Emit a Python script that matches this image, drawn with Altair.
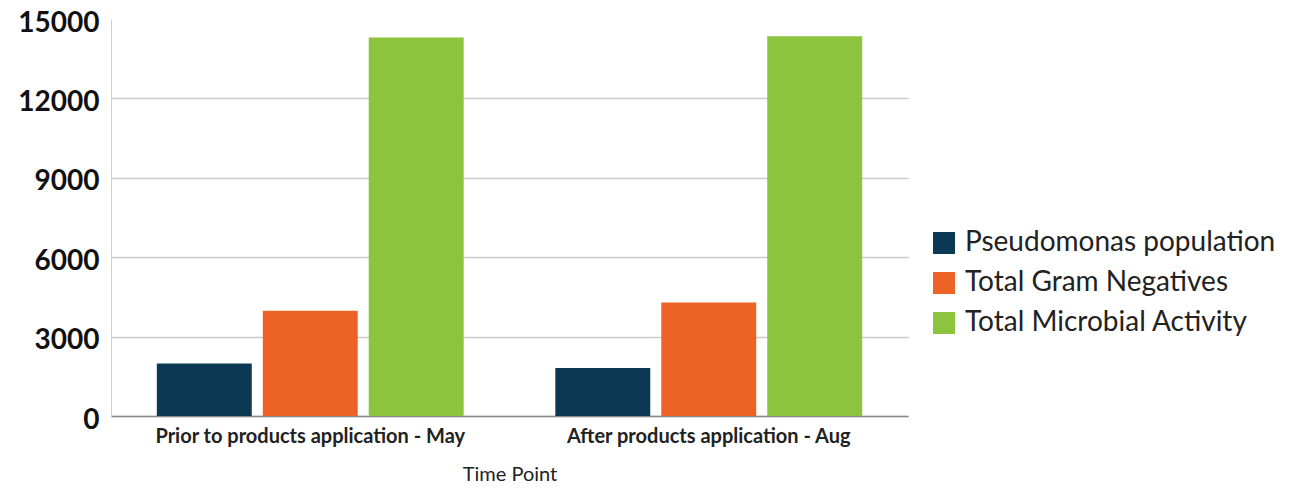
import altair as alt
import pandas as pd

time_points = ["Prior to products application - May", "After products application - Aug"]
series = ["Pseudomonas population", "Total Gram Negatives", "Total Microbial Activity"]
pseudomonas = [1980, 1810]
gram_neg = [3980, 4290]
microbial = [14300, 14350]
colors = ["#0b3853", "#ec6325", "#8cc43d"]

rows = []
for i, tp in enumerate(time_points):
    for s, vals in zip(series, [pseudomonas, gram_neg, microbial]):
        rows.append({"Time Point": tp, "Series": s, "Value": vals[i]})
df = pd.DataFrame(rows)

font = "Lato"

chart = alt.Chart(df).mark_bar().encode(
    x=alt.X("Time Point:N", sort=time_points,
            scale=alt.Scale(paddingInner=0.23, paddingOuter=0.115),
            axis=alt.Axis(title="Time Point", labelAngle=0, labelFont=font,
                          labelFontWeight="bold", labelFontSize=20, labelColor="#222",
                          labelPadding=10, labelLimit=500, titleFont=font,
                          titleFontWeight="normal", titleFontSize=20, titleColor="#222",
                          titlePadding=18, domainColor="#888", domainWidth=1.5,
                          ticks=False, grid=False)),
    xOffset=alt.XOffset("Series:N", sort=series,
                        scale=alt.Scale(paddingInner=0.104, paddingOuter=0)),
    y=alt.Y("Value:Q",
            scale=alt.Scale(domain=[0, 15000], nice=False),
            axis=alt.Axis(title=None, values=[0, 3000, 6000, 9000, 12000, 15000], format="d",
                          labelFont=font, labelFontWeight="bold", labelFontSize=28,
                          labelColor="#111", labelPadding=12, labelOffset=4, ticks=False,
                          domainColor="#cfcfcf", gridColor="#c9c9c9", gridWidth=1.3,
                          gridOpacity=alt.condition("datum.value >= 15000",
                                                    alt.value(0), alt.value(1)))),
    color=alt.Color("Series:N", sort=series,
                    scale=alt.Scale(domain=series, range=colors),
                    legend=alt.Legend(title=None, orient="none", legendX=819, legendY=210,
                                      symbolType="square", symbolSize=484, symbolStrokeWidth=0,
                                      labelFont=font, labelFontSize=28, labelColor="#222",
                                      labelOffset=7, rowPadding=12, labelLimit=400)),
).properties(
    width=797, height=397,
    autosize="none",
    background="white",
    padding={"left": 103, "top": 11, "right": 370, "bottom": 72},
).configure_view(stroke="transparent", strokeWidth=0)

chart.save("out.html", embed_options={"renderer": "svg", "actions": False})
